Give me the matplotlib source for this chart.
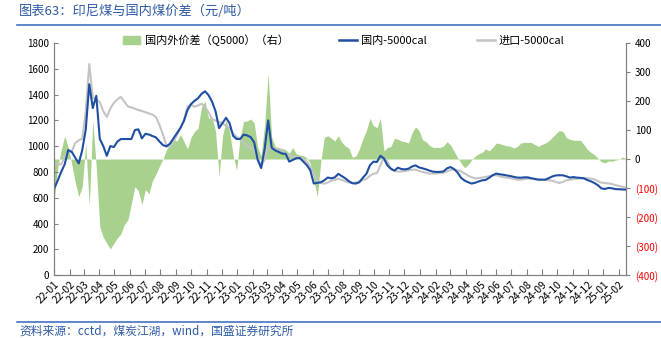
import matplotlib
matplotlib.use('Agg')
import matplotlib.pyplot as plt
import matplotlib.dates as mdates
from matplotlib.lines import Line2D
from matplotlib.patches import Patch
import pandas as pd

plt.rcParams['font.family'] = ['Noto Sans CJK SC', 'DejaVu Sans']

# weekly observations starting 2022-01-01
start_date = '2022-01-01'
n_weeks = 164

domestic = [
    671, 733, 800, 860, 970, 955, 910, 866, 970, 1130,
    1480, 1295, 1390, 1055, 1000, 925, 1000, 993, 1035, 1055,
    1055, 1055, 1055, 1125, 1130, 1060, 1095, 1090, 1078, 1068,
    1036, 1008, 998, 1019, 1060, 1100, 1142, 1197, 1280, 1326,
    1351, 1371, 1405, 1425, 1395, 1345, 1270, 1140, 1180, 1220,
    1177, 1080, 1055, 1055, 1089, 1083, 1070, 1030, 895, 830,
    980, 1200, 988, 967, 955, 942, 940, 880, 893, 906,
    908, 880, 853, 813, 710, 715, 720, 735, 757, 750,
    758, 785, 768, 750, 728, 712, 710, 720, 755, 785,
    851, 880, 877, 925, 905, 850, 824, 810, 833, 822,
    820, 825, 842, 851, 835, 828, 820, 810, 802, 800,
    800, 804, 828, 838, 822, 795, 754, 733, 720, 710,
    716, 726, 735, 738, 755, 774, 787, 782, 778, 773,
    768, 762, 756, 755, 758, 758, 751, 746, 741, 740,
    740, 752, 765, 773, 774, 774, 766, 756, 760, 756,
    754, 750, 737, 727, 714, 697, 672, 668, 676, 673,
    667, 666, 664, 663,
]

imported = [
    864, 860, 859, 916, 955, 957, 1024, 1045, 1058, 1270,
    1636, 1375, 1365, 1340, 1270, 1226, 1292, 1335, 1362, 1382,
    1345, 1308, 1300, 1290, 1280, 1272, 1263, 1253, 1245, 1225,
    1165, 1090, 1005, 993, 1035, 1085, 1140, 1200, 1305, 1322,
    1305, 1315, 1329, 1303, 1262, 1212, 1198, 1186, 1176, 1157,
    1139, 1100, 1071, 1058, 1022, 998, 990, 970, 910, 844,
    900, 995, 988, 980, 980, 966, 940, 927, 916, 916,
    912, 898, 880, 840, 785, 738, 714, 709, 718, 732,
    739, 747, 738, 728, 718, 714, 719, 727, 737, 746,
    770, 786, 791, 850, 911, 880, 825, 809, 802, 804,
    807, 812, 817, 818, 808, 800, 794, 787, 787, 788,
    792, 794, 805, 815, 818, 813, 804, 789, 771, 759,
    750, 752, 756, 761, 766, 774, 774, 766, 760, 755,
    752, 746, 740, 740, 744, 748, 748, 743, 737, 738,
    740, 736, 731, 723, 714, 722, 735, 740, 744, 748,
    750, 753, 751, 748, 742, 728, 717, 714, 711, 706,
    698, 691, 685, 678,
]

spread = [
    -141, -30, 31, 80, 40, -18, -80, -130, -95, 54,
    -164, 134, -30, -233, -270, -290, -310, -290, -272, -258,
    -225, -210, -153, -95, -110, -157, -105, -120, -75, -52,
    -25, 0, 32, 50, 68, 62, 85, 60, 35, 75,
    95, 106, 180, 200, 140, 145, 95, -60, 80, 134,
    95, 15, -40, 75, 129, 131, 138, 125, 40, 10,
    120, 295, 75, 43, 37, 37, 32, 20, 40, 18,
    14, 12, 4, -15, -72, -130, -10, 75, 80, 72,
    62, 80, 58, 45, 38, 6, 10, 35, 70, 98,
    140, 115, 108, 140, 28, 40, 43, 72, 68, 62,
    60, 55, 90, 111, 98, 66, 60, 47, 40, 40,
    40, 45, 60, 48, 27, 5, -14, -30, -20, -3,
    10, 18, 23, 35, 28, 40, 55, 53, 49, 46,
    44, 38, 43, 55, 58, 57, 57, 50, 44, 50,
    55, 63, 75, 87, 98, 95, 74, 68, 65, 64,
    65, 50, 33, 23, 15, 3, -10, -13, -7, -8,
    -4, -1, 7, 2,
]

title = '图表63：印尼煤与国内煤价差（元/吨）'
source = '资料来源：cctd，煤炭江湖，wind，国盛证券研究所'
label_spread = '国内外价差（Q5000）（右）'
label_domestic = '国内-5000cal'
label_imported = '进口-5000cal'

dates = pd.date_range(start_date, periods=n_weeks, freq='7D')

fig = plt.figure(figsize=(6.61, 3.38), dpi=100)
ax = fig.add_axes([0.082, 0.186, 0.865, 0.687])
ax2 = ax.twinx()

ax2.fill_between(dates, 0, spread, color='#a9d18e', lw=0)
ax.plot(dates, imported, color='#c4c4c4', lw=1.5)
ax.plot(dates, domestic, color='#1f4fa3', lw=1.5)

ax.set_zorder(ax2.get_zorder() + 1)
ax.patch.set_visible(False)

ax.set_xlim(dates[0], dates[-1])
ax.set_ylim(0, 1800)
ax.set_yticks(range(0, 1801, 200))
ax2.set_ylim(-400, 400)
ax2.set_yticks(range(-400, 401, 100))
ax2.set_yticklabels([f'({-v})' if v < 0 else str(v) for v in range(-400, 401, 100)])
for lab in ax2.get_yticklabels():
    if lab.get_text().startswith('('):
        lab.set_color('#ff0000')

ax.xaxis.set_major_locator(mdates.MonthLocator())
ax.xaxis.set_major_formatter(mdates.DateFormatter('%y-%m'))
for lab in ax.get_xticklabels():
    lab.set_rotation(45)
    lab.set_ha('right')
    lab.set_rotation_mode('anchor')

for a in (ax, ax2):
    a.spines['top'].set_visible(False)
    for s in ('left', 'right', 'bottom'):
        a.spines[s].set_color('#808080')
        a.spines[s].set_linewidth(0.8)
ax.tick_params(axis='x', direction='in', length=4, color='#808080', labelsize=7.5, pad=3)
ax.tick_params(axis='y', direction='in', length=3, color='#808080', labelsize=7)
ax2.tick_params(axis='y', direction='out', length=3, color='#808080', labelsize=7)

handles = [
    Patch(color='#a9d18e', label=label_spread),
    Line2D([], [], color='#1f4fa3', lw=1.8, label=label_domestic),
    Line2D([], [], color='#c4c4c4', lw=1.8, label=label_imported),
]
fig.legend(handles=handles, loc='center', bbox_to_anchor=(0.52, 0.882),
           ncol=3, frameon=False, fontsize=8, handlelength=1.6,
           handletextpad=0.4, columnspacing=4.5)

fig.text(0.028, 0.965, title, fontsize=9.5, color='#2e5aa8', va='center', ha='left')
fig.add_artist(Line2D([0.026, 1.0], [0.925, 0.925], color='#4472c4', lw=1.2))
fig.add_artist(Line2D([0.026, 1.0], [0.047, 0.047], color='#4472c4', lw=1.2))
fig.text(0.03, 0.02, source, fontsize=8.5, color='#2e5aa8', va='center', ha='left')

fig.savefig('out.png', dpi=100)
